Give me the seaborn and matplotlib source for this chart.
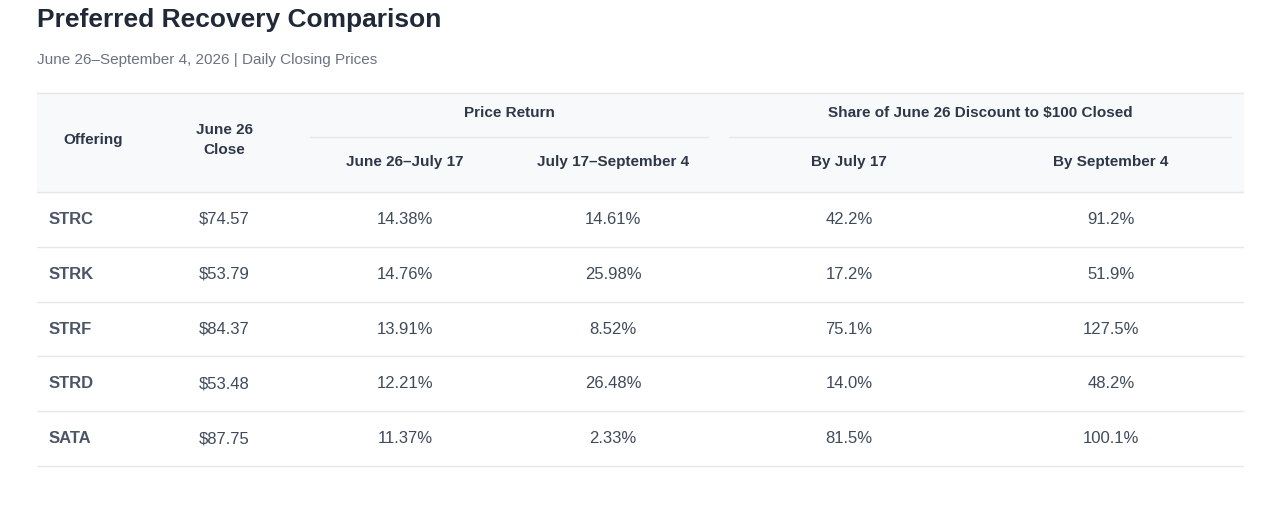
import matplotlib.pyplot as plt
import seaborn as sns

offerings = ["STRC", "STRK", "STRF", "STRD", "SATA"]
june26_close = [74.57, 53.79, 84.37, 53.48, 87.75]
ret_to_jul17 = [14.38, 14.76, 13.91, 12.21, 11.37]
ret_to_sep4 = [14.61, 25.98, 8.52, 26.48, 2.33]
closed_by_jul17 = [42.2, 17.2, 75.1, 14.0, 81.5]
closed_by_sep4 = [91.2, 51.9, 127.5, 48.2, 100.1]

sns.set_theme(style="white")
plt.rcParams['font.family'] = ['Liberation Sans', 'DejaVu Sans']

fig = plt.figure(figsize=(12.8, 5.08), dpi=100)
ax = fig.add_axes([0, 0, 1, 1])
ax.set_xlim(0, 1280)
ax.set_ylim(508, 0)
ax.axis("off")

dark = "#1f2937"
head = "#2d3748"
body = "#3f4a5a"
label_col = "#4a5568"
line = "#e5e7eb"

ax.text(37, 20, "Preferred Recovery Comparison", fontsize=19, fontweight="bold", color=dark, va="center")
ax.text(37, 60, "June 26\u2013September 4, 2026 | Daily Closing Prices", fontsize=11, color="#6b7280", va="center")

# header background
ax.add_patch(plt.Rectangle((37, 93), 1206, 99, color="#f8f9fb", zorder=0))
ax.plot([37, 1243], [93, 93], color=line, lw=1)
ax.plot([37, 1243], [192, 192], color=line, lw=1)

hkw = dict(fontsize=11, fontweight="bold", color=head, ha="center", va="center")
ax.text(93, 140, "Offering", **hkw)
ax.text(224, 140, "June 26\nClose", linespacing=1.5, **hkw)
ax.text(509, 113, "Price Return", **hkw)
ax.plot([310, 708], [137, 137], color=line, lw=1)
ax.text(980, 113, "Share of June 26 Discount to $100 Closed", **hkw)
ax.plot([729, 1231], [137, 137], color=line, lw=1)
sub_x = [405, 613, 849, 1111]
sub_labels = ["June 26\u2013July 17", "July 17\u2013September 4", "By July 17", "By September 4"]
for x, s in zip(sub_x, sub_labels):
    ax.text(x, 162, s, **hkw)

row_h = 54.8
for i, name in enumerate(offerings):
    yc = 192 + row_h * (i + 0.5)
    ax.text(49, yc, name, fontsize=12, fontweight="bold", color=label_col, va="center")
    vals = [f"${june26_close[i]:.2f}", f"{ret_to_jul17[i]:.2f}%", f"{ret_to_sep4[i]:.2f}%",
            f"{closed_by_jul17[i]:.1f}%", f"{closed_by_sep4[i]:.1f}%"]
    for x, v in zip([224] + sub_x, vals):
        ax.text(x, yc, v, fontsize=12, color=body, ha="center", va="center")
    yb = 192 + row_h * (i + 1)
    ax.plot([37, 1243], [yb, yb], color=line, lw=1)

fig.savefig("out.png", dpi=100)
